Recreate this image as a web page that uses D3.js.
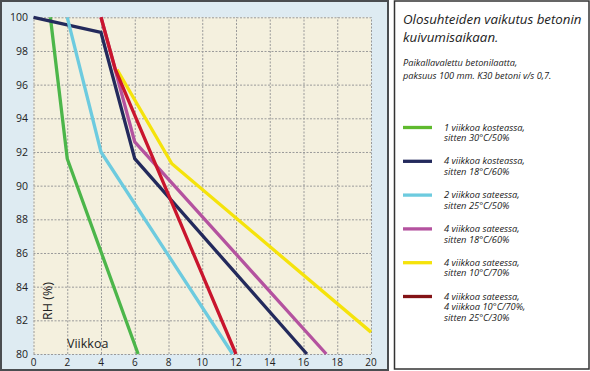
<!DOCTYPE html>
<html>
<head>
<meta charset="utf-8">
<script src="https://cdn.jsdelivr.net/npm/d3@7"></script>
<style>
  body { margin: 0; background: #fff; }
  svg text { font-family: "Open Sans", "Noto Sans", sans-serif; fill: #222; }
  .grid line { stroke: #9a9a9a; stroke-dasharray: 2,1.5; }
  .grid path { display: none; }
</style>
</head>
<body>
<svg id="chart" width="590" height="371"></svg>
<script>
// weeks / RH values
var xTicks = [0, 2, 4, 6, 8, 10, 12, 14, 16, 18, 20];
var yTicks = [80, 82, 84, 86, 88, 90, 92, 94, 96, 98, 100];

var greenWeeks  = [1, 2, 6.2];
var greenRH     = [100, 91.6, 80];
var navyWeeks   = [0, 4, 6, 16.2];
var navyRH      = [100, 99.1, 91.6, 80];
var blueWeeks   = [2, 4, 11.8];
var blueRH      = [100, 92, 80];
var purpleWeeks = [4, 6, 17.35];
var purpleRH    = [100, 92.6, 80];
var yellowWeeks = [4.95, 8.2, 20];
var yellowRH    = [96.9, 91.3, 81.3];
var redWeeks    = [4, 4.85, 12];
var redRH       = [100, 96.9, 80];

var seriesNames = [
  ["1 viikkoa kosteassa,", "sitten 30°C/50%"],
  ["4 viikkoa kosteassa,", "sitten 18°C/60%"],
  ["2 viikkoa sateessa,", "sitten 25°C/50%"],
  ["4 viikkoa sateessa,", "sitten 18°C/60%"],
  ["4 viikkoa sateessa,", "sitten 10°C/70%"],
  ["4 viikkoa sateessa,", "4 viikkoa 10°C/70%,", "sitten 25°C/30%"]
];
var lineColors   = ["#4cb64a", "#232a5c", "#6dcbdf", "#b4529f", "#f5e30b", "#c9152d"];
var legendColors = ["#5fba2e", "#232a5c", "#6dcbdf", "#b4529f", "#f5e30b", "#831316"];

var series = [
  [greenWeeks, greenRH], [navyWeeks, navyRH], [blueWeeks, blueRH],
  [purpleWeeks, purpleRH], [yellowWeeks, yellowRH], [redWeeks, redRH]
].map(function(s, i) {
  return { color: lineColors[i], points: s[0].map(function(w, j) { return [w, s[1][j]]; }) };
});

var svg = d3.select("#chart");

// left panel + legend panel
svg.append("rect").attr("x", 1).attr("y", 1).attr("width", 387).attr("height", 369)
  .attr("fill", "#deebf2").attr("stroke", "#4a4d50").attr("stroke-width", 2);
svg.append("rect").attr("x", 394.5).attr("y", 1).attr("width", 194.5).attr("height", 368)
  .attr("fill", "#fff").attr("stroke", "#333").attr("stroke-width", 1.5);

var plotLeft = 33.5, plotRight = 371, plotTop = 17.3, plotBottom = 354;

var x = d3.scaleLinear().domain([0, 20]).range([plotLeft, plotRight]);
var y = d3.scaleLinear().domain([80, 100]).range([plotBottom, plotTop]);

svg.append("rect").attr("x", plotLeft).attr("y", plotTop)
  .attr("width", plotRight - plotLeft).attr("height", plotBottom - plotTop)
  .attr("fill", "#f4f0de");

// grid
svg.append("g").attr("class", "grid")
  .attr("transform", "translate(0," + plotBottom + ")")
  .call(d3.axisBottom(x).tickValues(xTicks).tickSize(-(plotBottom - plotTop)).tickFormat(""));
svg.append("g").attr("class", "grid")
  .attr("transform", "translate(" + plotLeft + ",0)")
  .call(d3.axisLeft(y).tickValues(yTicks).tickSize(-(plotRight - plotLeft)).tickFormat(""));

// tick labels
svg.selectAll(".xlab").data(xTicks).enter().append("text")
  .attr("x", function(d) { return x(d); }).attr("y", 366)
  .attr("text-anchor", "middle").attr("font-size", 10)
  .text(function(d) { return d; });
svg.selectAll(".ylab").data(yTicks).enter().append("text")
  .attr("x", 28).attr("y", function(d) { return y(d) + 4; })
  .attr("text-anchor", "end").attr("font-size", 10.5)
  .text(function(d) { return d; });

svg.append("text").attr("transform", "translate(51.5,301) rotate(-90)")
  .attr("text-anchor", "middle").attr("font-size", 12.5).text("RH (%)");
svg.append("text").attr("x", 67).attr("y", 348).attr("font-size", 12.5).text("Viikkoa");

// lines
var line = d3.line()
  .x(function(d) { return x(d[0]); })
  .y(function(d) { return y(d[1]); });

svg.append("g").selectAll("path").data(series).enter().append("path")
  .attr("d", function(d) { return line(d.points); })
  .attr("fill", "none")
  .attr("stroke", function(d) { return d.color; })
  .attr("stroke-width", 3.3);

// legend
var lg = svg.append("g").style("font-style", "italic");
lg.append("text").attr("x", 403).attr("y", 24).attr("font-size", 13.3).text("Olosuhteiden vaikutus betonin");
lg.append("text").attr("x", 403).attr("y", 42).attr("font-size", 13.3).text("kuivumisaikaan.");
lg.append("text").attr("x", 403).attr("y", 66).attr("font-size", 9.2).text("Paikallavalettu betonilaatta,");
lg.append("text").attr("x", 403).attr("y", 79).attr("font-size", 9.2).text("paksuus 100 mm.  K30 betoni v/s 0,7.");

var items = lg.selectAll(".item").data(seriesNames).enter().append("g")
  .attr("transform", function(d, i) { return "translate(0," + (127.5 + i * 33.8) + ")"; });
items.append("line").attr("x1", 403).attr("x2", 432)
  .attr("stroke", function(d, i) { return legendColors[i]; })
  .attr("stroke-width", 3.3);
items.selectAll("text").data(function(d) { return d; }).enter().append("text")
  .attr("x", 444).attr("y", function(d, j) { return 3 + j * 10.7; })
  .attr("font-size", 9.3)
  .text(function(d) { return d; });
</script>
</body>
</html>
